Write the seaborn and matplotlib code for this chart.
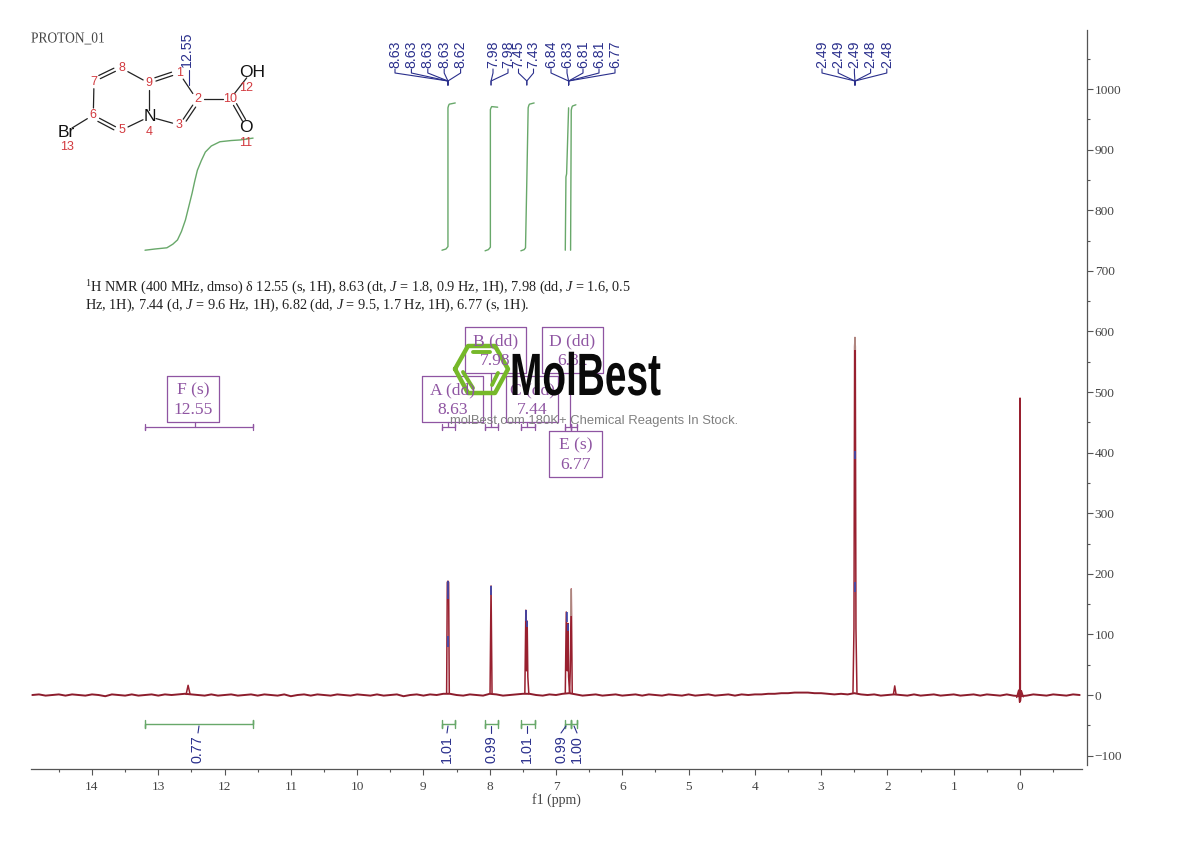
import matplotlib
matplotlib.use("Agg")
import matplotlib.pyplot as plt
import matplotlib.patheffects as pe
from matplotlib.transforms import Affine2D
import seaborn as sns

# baseline, high ppm first
base_ppm = [14.9, 14.8, 14.7, 14.6, 14.5, 14.4, 14.3, 14.2, 14.1, 14.0, 13.9, 13.8, 13.7, 13.6, 13.5, 13.4,
            13.3, 13.2, 13.1, 13.0, 12.9, 12.8, 12.7, 12.6, 12.5, 12.4, 12.3, 12.2, 12.1, 12.0, 11.9, 11.8,
            11.7, 11.6, 11.5, 11.4, 11.3, 11.2, 11.1, 11.0, 10.9, 10.8, 10.7, 10.6, 10.5, 10.4, 10.3, 10.2,
            10.1, 10.0, 9.9, 9.8, 9.7, 9.6, 9.5, 9.4, 9.3, 9.2, 9.1, 9.0, 8.9, 8.8, 8.7, 8.6, 8.5, 8.4,
            8.3, 8.2, 8.1, 8.0, 7.9, 7.8, 7.7, 7.6, 7.5, 7.4, 7.3, 7.2, 7.1, 7.0, 6.9, 6.8, 6.7, 6.6,
            6.5, 6.4, 6.3, 6.2, 6.1, 6.0, 5.9, 5.8, 5.7, 5.6, 5.5, 5.4, 5.3, 5.2, 5.1, 5.0, 4.9, 4.8,
            4.7, 4.6, 4.5, 4.4, 4.3, 4.2, 4.1, 4.0, 3.9, 3.8, 3.7, 3.6, 3.5, 3.4, 3.3, 3.2, 3.1, 3.0,
            2.9, 2.8, 2.7, 2.6, 2.5, 2.4, 2.3, 2.2, 2.1, 2.0, 1.9, 1.8, 1.7, 1.6, 1.5, 1.4, 1.3, 1.2,
            1.1, 1.0, 0.9, 0.8, 0.7, 0.6, 0.5, 0.4, 0.3, 0.2, 0.1, 0.0, -0.1, -0.2, -0.3, -0.4, -0.5, -0.6,
            -0.7, -0.8, -0.9]
base_int = [0, 1, -1, 0, 1, -1, 1, 0, -1, 1, 0, -2, 1, 0, -1, 1,
            -1, 0, 1, -1, 1, 0, 1, 2, 1, 0, -1, 1, -1, 0, 1, -1,
            0, 1, -1, 1, 0, -1, 1, -2, 0, 1, -1, 1, 0, -1, 1, 0,
            -1, 1, 0, -1, 1, -1, 0, 1, -2, 0, 1, -1, 1, 0, 2, 2, 0, -1,
            1, 0, -1, 2, 1, -1, 0, 1, 2, 2, 0, -1, 1, 0, 2, 3, 1, -1,
            0, 1, -1, 0, 1, -1, 0, 1, -1, 1, 0, -1, 1, 0, -1, 1, -1, 0,
            1, -1, 0, 1, -1, 1, 0, 1, 1, 2, 2, 3, 3, 4, 4, 4, 3, 3,
            2, 1, 2, 1, 3, 1, 0, 1, -1, 0, 1, 0, -1, 1, -1, 0, 1, -1,
            0, 1, -1, 0, 1, -1, 1, 0, -1, 1, -1, -2, -1, 1, 0, -1, 1, 0,
            -1, 1, 0]

# peak clusters on top of the baseline
peak_ppm = [[12.58, 12.55, 12.52],
            [8.65, 8.64, 8.63, 8.62, 8.61],
            [7.995, 7.98, 7.965],
            [7.47, 7.455, 7.445, 7.435, 7.425, 7.41],
            [6.86, 6.845, 6.83, 6.82, 6.81, 6.795, 6.785, 6.77, 6.755],
            [2.52, 2.505, 2.495, 2.49, 2.485, 2.475, 2.46],
            [1.91, 1.89, 1.87],
            [0.05, 0.02, 0.005, 0.0, -0.005, -0.02, -0.05]]
peak_int = [[1, 16, 1],
            [3, 186, 188, 186, 3],
            [3, 180, 3],
            [3, 140, 40, 122, 30, 2],
            [3, 137, 40, 118, 30, 3, 40, 175, 3],
            [4, 110, 575, 590, 575, 110, 4],
            [1, 15, 1],
            [-4, 8, -12, 490, -10, 7, -3]]

# blue / tan peak-pick marks on the peak tops
mark_ppm = [8.63, 8.63, 7.98, 7.45, 7.43, 6.84, 6.82, 6.77, 2.49, 2.49, 2.49]
mark_low = [158, 80, 165, 122, 112, 120, 105, 130, 570, 390, 170]
mark_high = [188, 98, 180, 140, 122, 137, 118, 175, 590, 403, 187]
mark_tan = [False, False, False, False, False, False, False, True, True, False, False]

# integral curves, one per region
int_ppm = [[13.20, 13.05, 12.87, 12.78, 12.71, 12.65, 12.59, 12.54, 12.49, 12.45, 12.41, 12.35, 12.29, 12.2, 12.07, 11.9, 11.76, 11.57],
           [8.72, 8.66, 8.63, 8.63, 8.62, 8.61, 8.52],
           [8.07, 8.02, 7.99, 7.99, 7.98, 7.97, 7.88],
           [7.53, 7.48, 7.46, 7.44, 7.42, 7.41, 7.40, 7.33],
           [6.86, 6.85, 6.84, 6.81],
           [6.78, 6.77, 6.76, 6.75, 6.70]]
int_val = [[734, 736, 738, 744, 751, 765, 784, 806, 828, 848, 866, 882, 896, 906, 913, 915, 916, 919],
           [734, 736, 740, 969, 973, 975, 977],
           [733, 735, 739, 966, 969, 971, 970],
           [733, 735, 738, 850, 969, 973, 975, 977],
           [734, 855, 860, 969],
           [734, 965, 970, 972, 974]]

# integral ranges and values
range_left = [13.20, 8.72, 8.07, 7.53, 6.86, 6.77]
range_right = [11.57, 8.52, 7.88, 7.32, 6.77, 6.68]
int_labels = ["0.77", "1.01", "0.99", "1.01", "0.99", "1.00"]

# multiplet boxes
box_names = ["F (s)", "A (dd)", "B (dd)", "C (dd)", "D (dd)", "E (s)"]
box_shifts = ["12.55", "8.63", "7.98", "7.44", "6.82", "6.77"]

# peak labels, grouped by the peak the leaders run to
peak_groups = [["8.63", "8.63", "8.63", "8.63", "8.62"],
               ["7.98", "7.98"],
               ["7.45", "7.43"],
               ["6.84", "6.83", "6.81", "6.81", "6.77"],
               ["2.49", "2.49", "2.49", "2.48", "2.48"]]
group_ppm = [8.63, 7.98, 7.44, 6.81, 2.49]

x_ticks = [14, 13, 12, 11, 10, 9, 8, 7, 6, 5, 4, 3, 2, 1, 0]
y_ticks = [-100, 0, 100, 200, 300, 400, 500, 600, 700, 800, 900, 1000]

nmr_line1 = (r"$^{1}$H NMR (400 MHz, dmso) δ 12.55 (s, 1H), 8.63 (dt, $\mathit{J}$ = 1.8, 0.9 Hz, 1H), "
             r"7.98 (dd, $\mathit{J}$ = 1.6, 0.5")
nmr_line2 = (r"Hz, 1H), 7.44 (d, $\mathit{J}$ = 9.6 Hz, 1H), 6.82 (dd, $\mathit{J}$ = 9.5, 1.7 Hz, 1H), "
             r"6.77 (s, 1H).")

RED = "#8c1c2c"
GREEN = "#68a86a"
BLUE = "#2a2f8c"
PURPLE = "#8f55a2"
ATOM = "#d23a3f"
AXIS = "#555555"

sns.set_theme(style="white")
plt.rcParams["font.family"] = ["Liberation Serif", "DejaVu Sans"]
plt.rcParams["mathtext.fontset"] = "custom"
plt.rcParams["mathtext.rm"] = "Liberation Serif"
plt.rcParams["mathtext.it"] = "Liberation Serif:italic"
plt.rcParams["axes.unicode_minus"] = True

W, H = 1190, 841
fig = plt.figure(figsize=(W / 100, H / 100), dpi=100)
ax = fig.add_axes([31 / W, 1 - 769 / H, 1051 / W, 739 / H])
XMAX, XMIN = 14.92, -0.935
ax.set_xlim(XMAX, XMIN)
ax.set_ylim(-122.1, 1097.4)

sns.lineplot(x=base_ppm, y=base_int, sort=False, estimator=None, color=RED, linewidth=1.4, ax=ax)
for xs, ys in zip(peak_ppm, peak_int):
    sns.lineplot(x=xs, y=ys, sort=False, estimator=None, color="#98202f", linewidth=1.1, ax=ax)
for i in range(len(mark_ppm)):
    ax.vlines(mark_ppm[i], mark_low[i], mark_high[i], color="#b49a90" if mark_tan[i] else "#3a48b0", linewidth=1.2, zorder=3)
for xs, ys in zip(int_ppm, int_val):
    sns.lineplot(x=xs, y=ys, sort=False, estimator=None, color=GREEN, linewidth=1.0, ax=ax)

# integral brackets under the baseline, purple copies above the spectrum
for left, right in zip(range_left, range_right):
    ax.plot([left, left, left, right, right, right], [-41, -55, -48, -48, -41, -55], color=GREEN, linewidth=1.0)
    ax.plot([left, left, left, right, right, right], [447, 437, 442, 442, 447, 437], color=PURPLE, linewidth=0.9)

for side in ["left", "top"]:
    ax.spines[side].set_visible(False)
ax.spines["bottom"].set_color(AXIS)
ax.spines["right"].set_color(AXIS)
ax.spines["bottom"].set_linewidth(0.9)
ax.spines["right"].set_linewidth(0.9)
ax.spines["right"].set_position(("outward", 3.6))
ax.spines["right"].set_bounds(-115, 1097.4)
ax.yaxis.tick_right()
ax.set_xticks(x_ticks)
ax.set_xticks([t + 0.5 for t in range(-1, 15)], minor=True)
ax.set_yticks(y_ticks)
ax.set_yticks([t + 50 for t in y_ticks[:-1]] + [1050], minor=True)
ax.tick_params(axis="both", which="major", length=4, width=0.8, color=AXIS, labelcolor="#444444", labelsize=9.6)
ax.tick_params(axis="both", which="minor", length=2.4, width=0.8, color=AXIS)
ax.tick_params(axis="x", which="both", bottom=True, direction="out", pad=4.6)
ax.tick_params(axis="y", which="both", right=True, left=False, direction="out", pad=1.5)
ax.set_xlabel("f1 (ppm)", fontsize=10, color="#444444", labelpad=0)

# overlay in picture pixels for annotations, molecule and watermark
ov = fig.add_axes([0, 0, 1, 1], zorder=5)
ov.set_xlim(0, W)
ov.set_ylim(H, 0)
ov.axis("off")
ov.patch.set_alpha(0)


class SqueezeX(pe.AbstractPathEffect):
    def __init__(self, x0, factor):
        super().__init__()
        self.x0 = x0
        self.factor = factor

    def draw_path(self, renderer, gc, tpath, affine, rgbFace=None):
        squeeze = Affine2D().translate(-self.x0, 0).scale(self.factor, 1).translate(self.x0, 0)
        renderer.draw_path(gc, tpath, affine + squeeze, rgbFace)


def ppm_px(p):
    return 31 + (XMAX - p) / (XMAX - XMIN) * 1051


ov.text(31, 39, "PROTON_01", fontsize=11, color="#444444", ha="left", va="center", path_effects=[SqueezeX(31, 0.88)])

# peak labels and leaders
group_x = [395, 493, 518.5, 551, 822]
group_step = [16.4, 15, 15, 16, 16.2]
for labels, p, x0, step in zip(peak_groups, group_ppm, group_x, group_step):
    target = ppm_px(p)
    for i, label in enumerate(labels):
        lx = x0 + i * step
        ov.text(lx, 68, label, rotation=90, family="Liberation Sans", fontsize=10.2, color=BLUE, ha="center", va="bottom")
        ov.plot([lx, lx, target, target], [69, 73, 81, 85], color=BLUE, linewidth=0.8)
ov.text(187, 67, "12.55", rotation=90, family="Liberation Sans", fontsize=10.2, color=BLUE, ha="center", va="bottom")
ov.plot([188.5, 188.5], [70, 85], color=BLUE, linewidth=0.8)

# integral values
label_x = [198, 447, 491, 527, 561, 577]
stem_x = [199, 448, 491, 527, 566, 574]
for label, lx, sx in zip(int_labels, label_x, stem_x):
    ov.text(lx, 735, label, rotation=90, family="Liberation Sans", fontsize=10.4, color=BLUE, ha="center", va="top")
    ov.plot([sx, lx], [726, 733], color=BLUE, linewidth=0.8)

ov.text(85, 288, nmr_line1, fontsize=10.3, color="#222222", ha="left", va="center")
ov.text(85, 305, nmr_line2, fontsize=10.3, color="#222222", ha="left", va="center")

# multiplet boxes
box_left = [167, 422, 465, 506, 542, 549]
box_right = [219, 483, 526, 558, 603, 602]
box_top = [376, 376, 327, 376, 327, 431]
stem_bottom = [427, 427, 427, 427, 427, 427]
box_stem = [195, 448, 491, 527, 570, 573]
for i in range(6):
    ov.plot([box_left[i], box_right[i], box_right[i], box_left[i], box_left[i]],
            [box_top[i], box_top[i], box_top[i] + 46, box_top[i] + 46, box_top[i]], color=PURPLE, linewidth=0.9)
    cx = (box_left[i] + box_right[i]) / 2
    ov.text(cx, box_top[i] + 14, box_names[i], fontsize=12.6, color=PURPLE, ha="center", va="center")
    ov.text(cx, box_top[i] + 34, box_shifts[i], fontsize=12.6, color=PURPLE, ha="center", va="center")
    if i == 5:
        continue
    ov.plot([box_stem[i], box_stem[i]], [box_top[i] + 46, stem_bottom[i]], color=PURPLE, linewidth=0.9)

# molecule
atoms = {"C8": (121.7, 68.3), "C7": (94, 81.7), "C6": (93.3, 115), "C5": (121.7, 130), "N4": (149.3, 116.7),
         "C9": (149.3, 83.3), "C1": (179.3, 73.3), "C2": (196.7, 99.3), "C3": (179.3, 125), "C10": (230, 99.3),
         "Br": (66, 131.7), "OH": (251, 72.3), "O": (246, 127.3)}
bonds = [("C7", "C8", 2), ("C8", "C9", 1), ("C9", "C1", 2), ("C1", "C2", 1), ("C2", "C3", 2), ("C3", "N4", 1),
         ("N4", "C9", 1), ("N4", "C5", 1), ("C5", "C6", 2), ("C6", "C7", 1), ("C6", "Br", 1), ("C2", "C10", 1),
         ("C10", "OH", 1), ("C10", "O", 2)]
for a, b, order in bonds:
    (x1, y1), (x2, y2) = atoms[a], atoms[b]
    length = ((x2 - x1) ** 2 + (y2 - y1) ** 2) ** 0.5
    ux, uy = (x2 - x1) / length, (y2 - y1) / length
    x1, y1, x2, y2 = x1 + 7 * ux, y1 + 7 * uy, x2 - 7 * ux, y2 - 7 * uy
    ov.plot([x1, x2], [y1, y2], color="#222222", linewidth=0.9)
    if order == 2:
        ov.plot([x1 + 3.5 * uy, x2 + 3.5 * uy], [y1 - 3.5 * ux, y2 - 3.5 * ux], color="#222222", linewidth=0.9)

for name, x, y in [("Br", 66, 132), ("N", 149.5, 116.5), ("OH", 252, 72.5), ("O", 246, 127.5)]:
    ov.text(x, y, name, family="Liberation Sans", fontsize=12.5, color="#111111", ha="center", va="center")
atom_nums = ["1", "2", "3", "4", "5", "6", "7", "8", "9", "10", "11", "12", "13"]
num_x = [179.3, 197.5, 179.3, 149.3, 121.7, 93.3, 94, 121.7, 149.3, 230.5, 246, 246, 66.7]
num_y = [73.3, 99.3, 125, 131.7, 130, 115, 81.7, 68.3, 83.3, 99.3, 142.7, 87.7, 146.7]
for n, x, y in zip(atom_nums, num_x, num_y):
    ov.text(x, y, n, family="Liberation Sans", fontsize=9, color=ATOM, ha="center", va="center")

# watermark
hex_x = [455, 468, 495, 508, 495, 468, 455]
hex_y = [369, 346, 346, 369, 393, 393, 369]
ov.plot(hex_x, hex_y, color="#76b82a", linewidth=3.2, solid_joinstyle="round")
ov.plot([473, 490], [352, 352], color="#76b82a", linewidth=2.8)
ov.plot([463, 473], [372, 388], color="#76b82a", linewidth=2.8)
ov.plot([492, 498], [385, 373], color="#76b82a", linewidth=2.8)
ov.text(510, 395, "MolBest", family="Liberation Sans", fontweight="bold", fontsize=43, color="#0a0a0a",
        ha="left", va="baseline", path_effects=[SqueezeX(510, 0.65)])
ov.text(594.5, 421, "molBest.com 180K+ Chemical Reagents In Stock.", family="Liberation Sans", fontsize=9.4,
        color="#808080", ha="center", va="center")

fig.savefig("out.png", dpi=100)
